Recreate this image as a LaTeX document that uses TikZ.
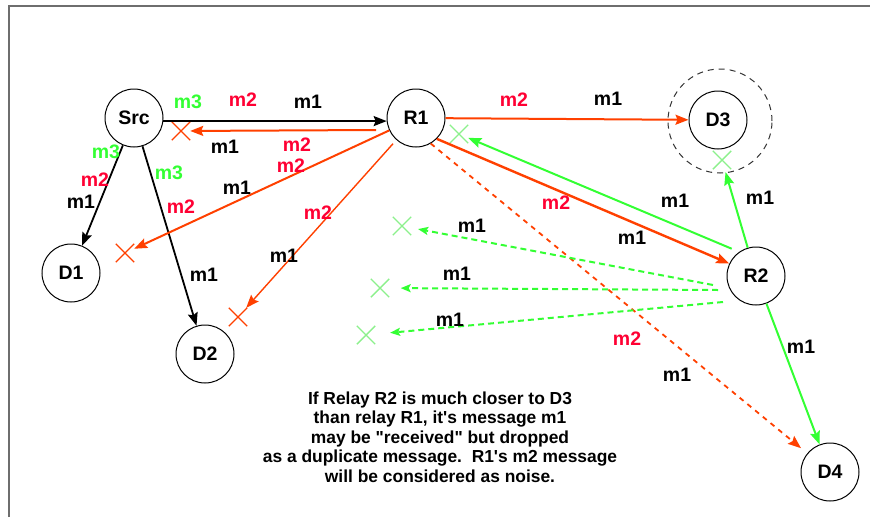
\documentclass[tikz,border=0pt]{standalone}
\usepackage{fontspec}
\setmainfont{Liberation Sans}
\newfontfamily\notefont{Liberation Sans}
\usetikzlibrary{arrows.meta,shapes.misc,calc}

\definecolor{linered}{RGB}{255,64,0}
\definecolor{labred}{RGB}{255,0,51}
\definecolor{linegreen}{RGB}{51,255,51}
\definecolor{crossgreen}{RGB}{140,240,140}
\definecolor{framegray}{RGB}{110,110,110}

\begin{document}
\begin{tikzpicture}[x=1pt,y=-1pt,>={Stealth[length=13pt,width=10pt,inset=2pt]},
  station/.style={circle, draw, line width=1pt, minimum size=58pt, inner sep=0pt,
    font=\fontsize{19.5}{20}\selectfont\bfseries},
  msg/.style={font=\fontsize{19.5}{20}\selectfont\bfseries, inner sep=0pt},
  wire/.style={draw=black, line width=1.8pt, ->},
  hop/.style={draw=linered, line width=2pt, ->},
  ack/.style={draw=linegreen, line width=2pt, ->},
  echo/.style={draw=linegreen, line width=2pt, dash pattern=on 6pt off 4pt,
    -{Stealth[length=10pt,width=8pt,inset=2pt]}},
  leak/.style={draw=linered, line width=1.8pt, dash pattern=on 5pt off 5pt, ->},
  lost/.style={cross out, draw=#1, line width=1.4pt, minimum size=17pt, inner sep=0pt}]
  \useasboundingbox (0,0) rectangle (870,517);
  \draw[framegray, line width=2pt] (8.5,517) -- (8.5,5.5) -- (870,5.5);

  % stations
  \node[station] (Src) at (134,118) {Src};
  \node[station] (R1)  at (416,118) {R1};
  \node[station] (D3)  at (718,120) {D3};
  \node[station] (D1)  at (71,273)  {D1};
  \node[station] (D2)  at (205,354) {D2};
  \node[station] (R2)  at (756,276) {R2};
  \node[station] (D4)  at (830,472) {D4};
  \node[circle, draw=black!80, line width=1pt, dash pattern=on 6pt off 5pt,
        minimum size=104pt] (range) at (720,121) {};

  % dropped receptions
  \node[lost=linered]    (xs)  at (181,131) {};
  \node[lost=linered]    (xd1) at (125,253) {};
  \node[lost=linered]    (xd2) at (238,317) {};
  \node[lost=crossgreen] (xr1) at (459,134) {};
  \node[lost=crossgreen] (xd3) at (722,160) {};
  \node[lost=crossgreen] (xa)  at (402,226) {};
  \node[lost=crossgreen] (xb)  at (380,288) {};
  \node[lost=crossgreen] (xc)  at (366,335) {};
  \coordinate (back) at (376,130);
  \coordinate (e1) at (713,285);
  \coordinate (e2) at (718,290);
  \coordinate (e3) at (723,302);

  % source transmissions
  \draw[wire] (Src.-6) -- (R1.186);
  \draw[wire] (Src) -- (D1);
  \draw[wire] (Src) -- (D2);

  % relay R1
  \draw[hop] (back) -- (xs);
  \draw[hop] (R1) -- (xd1);
  \draw[hop, line width=1.4pt, shorten <=5pt] (R1) -- (xd2);
  \draw[hop] (R1) -- (D3);
  \draw[hop, line width=2.4pt] (R1.-45) -- (R2.155);
  \draw[leak, shorten >=8pt] (R1.-60) -- (D4);

  % relay R2
  \draw[ack, shorten <=8pt] (R2.125) -- (xr1);
  \draw[ack, shorten >=3pt] (R2) -- (xd3);
  \draw[ack] (R2) -- (D4);
  \draw[echo, shorten >=7pt]    (e1) -- (xa);
  \draw[echo, shorten >=11.5pt] (e2) -- (xb);
  \draw[echo, shorten >=15pt]   (e3) -- (xc);

  % message labels
  \foreach \x/\y/\c/\t [count=\i] in {
      188/102/linegreen/m3, 243/100/labred/m2, 308/102/black/m1,
      225/147/black/m1, 297/145/labred/m2,
      291/166/labred/m2, 237/188/black/m1,
      106/152/linegreen/m3, 95/180/labred/m2, 81/202/black/m1,
      169/173/linegreen/m3, 181/207/labred/m2, 204/275/black/m1,
      318/213/labred/m2, 284/256/black/m1,
      514/100/labred/m2, 608/99/black/m1,
      556/203/labred/m2, 632/238/black/m1,
      675/201/black/m1, 760/198/black/m1, 801/347/black/m1,
      627/339/labred/m2, 677/375/black/m1,
      472/226/black/m1, 457/274/black/m1, 450/320/black/m1}{
    \node[msg, text=\c] (lab\i) at (\x,\y) {\t};
  }

  \node[align=center, inner sep=0pt, font=\notefont\fontsize{17.4}{19.5}\selectfont\bfseries]
    (note) at (440,437) {If Relay R2 is much closer to D3\\
      than relay R1, it's message m1\\
      may be "received" but dropped\\
      as a duplicate message.\ \ R1's m2 message\\
      will be considered as noise.};
\end{tikzpicture}
\end{document}
